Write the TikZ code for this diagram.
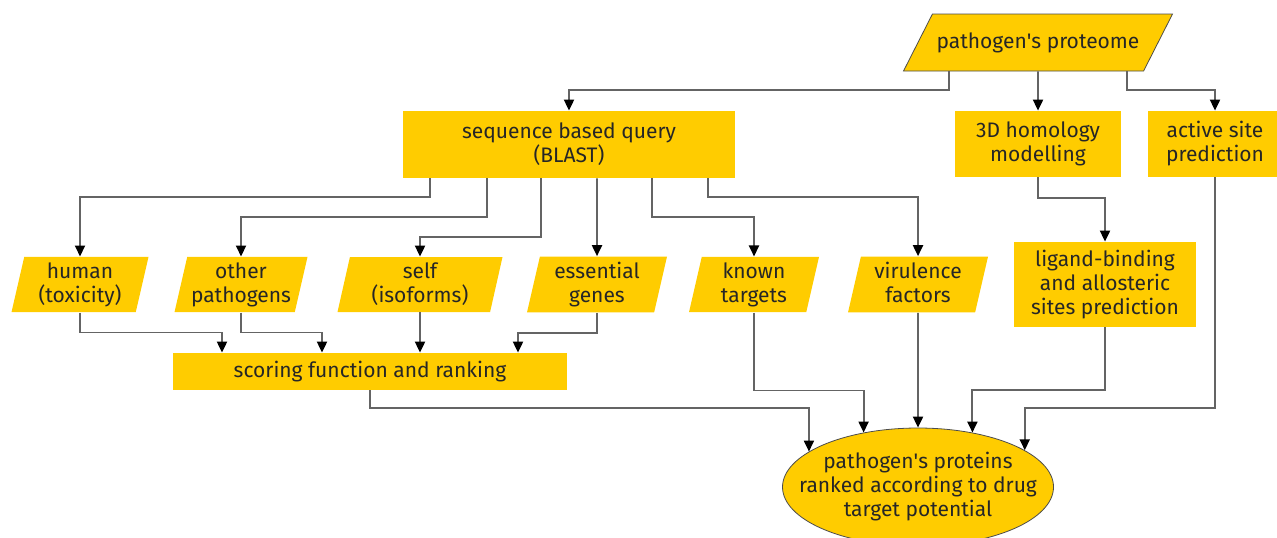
\documentclass[tikz,border=0pt]{standalone}
\usepackage{fontspec}
\setmainfont{Fira Sans}
\usetikzlibrary{arrows.meta,positioning,calc,shapes.geometric}
\definecolor{gold}{RGB}{255,204,0}
\definecolor{wire}{RGB}{100,100,100}

\begin{document}
\begin{tikzpicture}[x=0.5pt,y=-0.5pt,
  every node/.style={font=\fontsize{10.5}{12}\selectfont,text=black!85},
  procbox/.style={rectangle,fill=gold,align=center,inner sep=0pt},
  databox/.style={trapezium,trapezium left angle=77,trapezium right angle=103,
    trapezium stretches body,fill=gold,align=center,inner xsep=0pt,inner ysep=2.75pt,
    minimum height=27.5pt},
  srcbox/.style={trapezium,trapezium left angle=63,trapezium right angle=117,
    trapezium stretches body,draw=black!70,fill=gold,align=center,inner xsep=0pt,inner ysep=9.15pt},
  goal/.style={ellipse,draw=black!70,fill=gold,inner sep=0pt},
  arr/.style={draw=wire,line width=0.95pt,-{Triangle[length=5.5pt,width=5pt,black]}}]

 \useasboundingbox (0,0) rectangle (1277,537);

 % ---- source and first analyses ----
 \node[srcbox,minimum width=134.5pt,minimum height=28.5pt] (prot) at (1038,42.5) {pathogen\textquotesingle s proteome};
 \node[procbox,minimum width=166pt,minimum height=33.5pt] (seq) at (569,144.5) {sequence based query\\(BLAST)};
 \node[procbox,minimum width=83pt,minimum height=33pt] (hom) at (1038,144) {3D homology\\modelling};
 \node[procbox,minimum width=67pt,minimum height=33pt] (act) at (1215,144) {active site\\prediction};

 % ---- BLAST hits ----
 \node[databox,minimum width=68.5pt] (human) at (80,284.5) {human\\(toxicity)};
 \node[databox,minimum width=66.5pt] (other) at (241,284.5) {other\\pathogens};
 \node[databox,minimum width=82.5pt] (self) at (420,284.5) {self\\(isoforms)};
 \node[databox,minimum width=70pt] (ess) at (597,284.5) {essential\\genes};
 \node[databox,minimum width=65pt] (known) at (754,284.5) {known\\targets};
 \node[databox,minimum width=70pt] (vir) at (918,284.5) {virulence\\factors\vphantom{g}};
 \node[procbox,minimum width=91pt,minimum height=42.5pt] (lig) at (1105,284.5) {ligand-binding\\and allosteric\\sites prediction};

 \node[procbox,minimum width=197pt,minimum height=18.5pt] (score) at (370,371.5) {scoring function and ranking};

 % ---- result ----
 \node[goal,minimum width=135.5pt,minimum height=59pt] (rank) at (918,487) {};
 \node[align=center] (ranktxt) at (rank) {pathogen\textquotesingle s proteins\\ranked according to drug\\target potential};

 % ---- from the proteome ----
 \draw[arr] ($(prot.south)+(-89,0)$) -- ++(0,19) -| (seq.north);
 \draw[arr] (prot.south) -- (hom.north);
 \draw[arr] ($(prot.south)+(89,0)$) -- ++(0,19) -| (act.north);

 % ---- from BLAST ----
 \draw[arr] ($(seq.south)+(-139,0)$) -- ++(0,19) -| (human.north);
 \draw[arr] ($(seq.south)+(-82,0)$) -- ++(0,39) -| (other.north);
 \draw[arr] ($(seq.south)+(-28,0)$) -- ++(0,59) -| (self.north);
 \draw[arr] ($(seq.south)+(28,0)$) -- (ess.north);
 \draw[arr] ($(seq.south)+(83,0)$) -- ++(0,39) -| (known.north);
 \draw[arr] ($(seq.south)+(139,0)$) -- ++(0,19) -| (vir.north);
 \draw[arr] (hom.south) -- ++(0,21) -| (lig.north);

 % ---- into the score ----
 \draw[arr] (human.south) -- ++(0,20) -| ($(score.north)+(-148,0)$);
 \draw[arr] (other.south) -- ++(0,20) -| ($(score.north)+(-48,0)$);
 \draw[arr] (self.south) -- (self.south |- score.north);
 \draw[arr] (ess.south) -- ++(0,20) -| ($(score.north)+(148,0)$);

 % ---- into the ranking ----
 \draw[arr] (score.south) -- ++(0,18) -| (rank.162.15);
 \draw[arr] (known.south) -- ++(0,78) -| (rank.135.6);
 \draw[arr] (vir.south) -- (rank.north);
 \draw[arr] (lig.south) -- ++(0,63) -| (rank.45.7);
 \draw[arr] (act.south) -- ++(0,231) -| (rank.19.1);
\end{tikzpicture}
\end{document}
